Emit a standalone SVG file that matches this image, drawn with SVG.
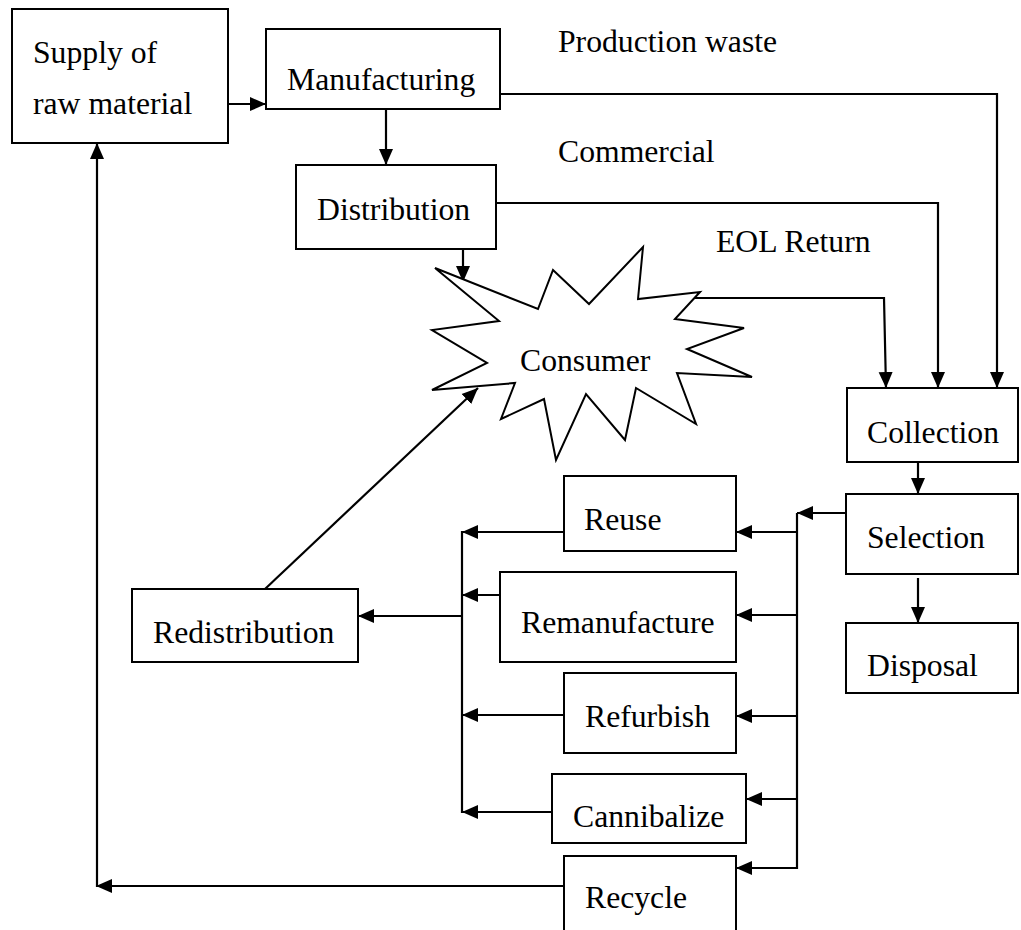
<svg xmlns="http://www.w3.org/2000/svg" width="1021" height="930" viewBox="0 0 1021 930">
  <style>
    .box { fill: #ffffff; stroke: #000000; stroke-width: 2; }
    .lbl { font-family: "Liberation Serif", "Times New Roman", serif; font-size: 31.7px; fill: #000000; }
    .wire { fill: none; stroke: #000000; stroke-width: 2.2; }
    .arrow { fill: none; stroke: #000000; stroke-width: 2.2; marker-end: url(#head); }
  </style>
  <defs>
    <marker id="head" markerUnits="userSpaceOnUse" markerWidth="17" markerHeight="16" refX="16" refY="8" orient="auto">
      <path d="M0,1 L16,8 L0,15 Z" fill="#000000"/>
    </marker>
  </defs>
  <rect width="1021" height="930" fill="#ffffff"/>

  <g id="connectors">
    <!-- main forward chain -->
    <path class="arrow" d="M228,104 H266"/>
    <path class="arrow" d="M386,109 V165"/>
    <path class="arrow" d="M463,249 V282"/>
    <!-- return flows into collection -->
    <path class="arrow" d="M500,94 H997 V388"/>
    <path class="arrow" d="M496,203 H938 V388"/>
    <path class="arrow" d="M695,298 H884 L886,388"/>
    <path class="arrow" d="M918,462 V494"/>
    <path class="arrow" d="M918,578 V623"/>
    <!-- selection to recovery options -->
    <path class="arrow" d="M846,513 H797"/>
    <path class="wire" d="M797,513 V869"/>
    <path class="arrow" d="M797,532 H736"/>
    <path class="arrow" d="M797,615 H736"/>
    <path class="arrow" d="M797,716 H736"/>
    <path class="arrow" d="M797,799 H746"/>
    <path class="arrow" d="M797,868 H736"/>
    <!-- recovery options to redistribution -->
    <path class="arrow" d="M564,532 H462"/>
    <path class="arrow" d="M500,595 H462"/>
    <path class="arrow" d="M564,715 H462"/>
    <path class="arrow" d="M552,812 H462"/>
    <path class="wire" d="M462,531 V813"/>
    <path class="arrow" d="M462,616 H358"/>
    <path class="arrow" d="M265,589 L478,388"/>
    <!-- recycling loop back to raw material -->
    <path class="arrow" d="M564,886 H96"/>
    <path class="arrow" d="M97,887 V143"/>
  </g>

  <g id="supply">
    <rect class="box" x="12" y="9" width="216" height="134"/>
    <text class="lbl" x="33" y="63">Supply of</text>
    <text class="lbl" x="33" y="114">raw material</text>
  </g>
  <g id="manufacturing">
    <rect class="box" x="266" y="29" width="234" height="80"/>
    <text class="lbl" x="287" y="90">Manufacturing</text>
  </g>
  <g id="distribution">
    <rect class="box" x="296" y="165" width="200" height="84"/>
    <text class="lbl" x="317" y="220">Distribution</text>
  </g>
  <g id="labels">
    <text class="lbl" x="558" y="52">Production waste</text>
    <text class="lbl" x="558" y="162">Commercial</text>
    <text class="lbl" x="716" y="252">EOL Return</text>
  </g>
  <g id="consumer">
    <polygon class="box" points="435,268 538,309 553,270 589,304 643,247 638,299 700,292 675,319 744,328 687,349 752,377 677,373 696,424 636,388 625,440 586,394 556,460 544,399 501,419 515,383 432,390 487,363 432,330 499,321"/>
    <text class="lbl" x="520" y="371">Consumer</text>
  </g>
  <g id="collection">
    <rect class="box" x="847" y="388" width="171" height="74"/>
    <text class="lbl" x="867" y="443">Collection</text>
  </g>
  <g id="selection">
    <rect class="box" x="846" y="494" width="172" height="80"/>
    <text class="lbl" x="867" y="548">Selection</text>
  </g>
  <g id="disposal">
    <rect class="box" x="846" y="623" width="172" height="70"/>
    <text class="lbl" x="867" y="676">Disposal</text>
  </g>
  <g id="reuse">
    <rect class="box" x="564" y="476" width="172" height="75"/>
    <text class="lbl" x="584" y="530">Reuse</text>
  </g>
  <g id="remanufacture">
    <rect class="box" x="500" y="572" width="236" height="90"/>
    <text class="lbl" x="521" y="633">Remanufacture</text>
  </g>
  <g id="refurbish">
    <rect class="box" x="564" y="673" width="172" height="80"/>
    <text class="lbl" x="585" y="727">Refurbish</text>
  </g>
  <g id="cannibalize">
    <rect class="box" x="552" y="774" width="194" height="69"/>
    <text class="lbl" x="573" y="827">Cannibalize</text>
  </g>
  <g id="recycle">
    <rect class="box" x="564" y="856" width="172" height="80"/>
    <text class="lbl" x="585" y="908">Recycle</text>
  </g>
  <g id="redistribution">
    <rect class="box" x="132" y="589" width="226" height="73"/>
    <text class="lbl" x="153" y="643">Redistribution</text>
  </g>
</svg>
